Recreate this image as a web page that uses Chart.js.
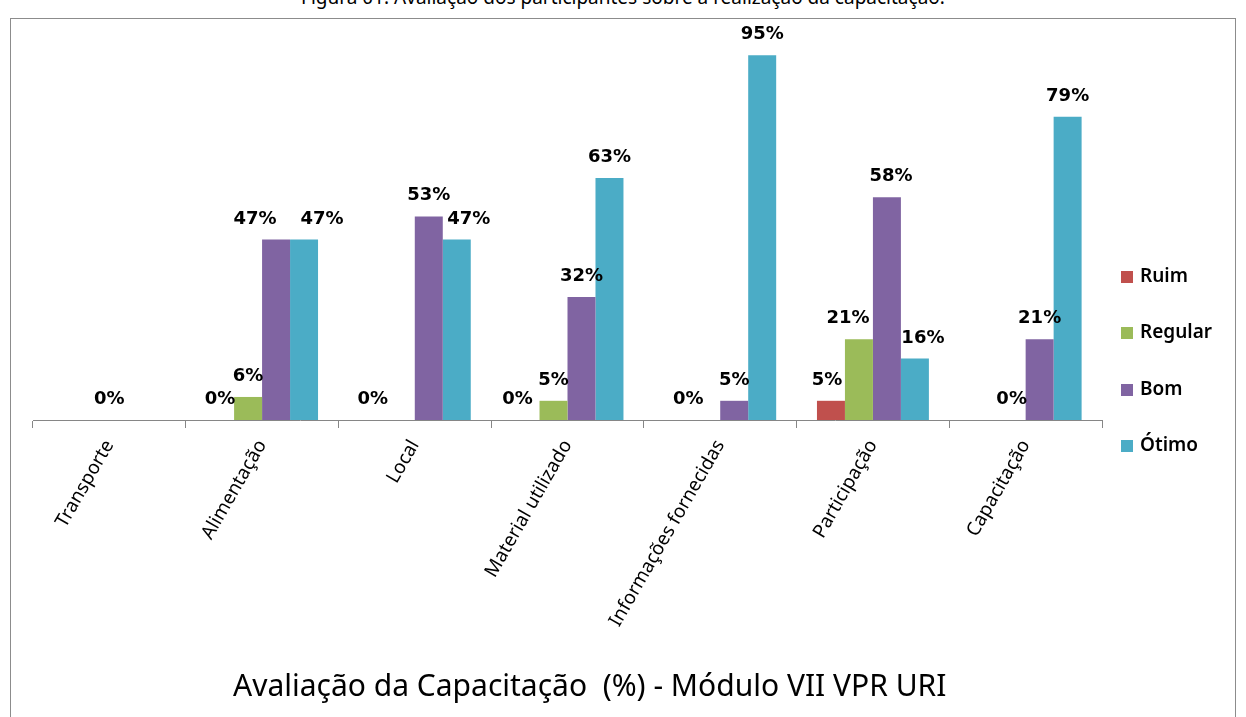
<!DOCTYPE html>
<html>
<head>
<meta charset="utf-8">
<script src="https://cdn.jsdelivr.net/npm/chart.js@4"></script>
<style>
  body { margin: 0; background: #fff; width: 1246px; height: 717px; overflow: hidden; position: relative; font-family: "Noto Sans", sans-serif; }
  #caption { position: absolute; left: 0; top: -16px; width: 1246px; text-align: center; font-size: 19px; color: #000; }
  #box { position: absolute; left: 10px; top: 18px; width: 1224px; height: 710px; border: 1px solid #8c8c8c; }
  #wrap { position: absolute; left: 11px; top: 19px; width: 1224px; height: 698px; }
  #title { position: absolute; left: 233px; top: 666px; font-size: 30px; line-height: 38px; color: #000; white-space: pre; }
  #legend { position: absolute; left: 1121px; top: 262px; font-size: 19px; font-weight: 600; color: #000; }
  #legend div { height: 56.3px; display: flex; align-items: flex-start; }
  #legend span.sw { display: inline-block; width: 12px; height: 12px; margin-right: 7px; margin-top: 9px; }
</style>
</head>
<body>
<div id="caption">Figura 01. Avaliação dos participantes sobre a realização da capacitação.</div>
<div id="box"></div>
<div id="wrap"><canvas id="chart" width="1224" height="698"></canvas></div>
<div id="title">Avaliação da Capacitação  (%) - Módulo VII VPR URI</div>
<div id="legend"></div>
<script>
// categories and series (%)
const categories = ['Transporte', 'Alimentação', 'Local', 'Material utilizado', 'Informações fornecidas', 'Participação', 'Capacitação'];
const ruim    = [0, 0, 0, 0, 0, 5, 0];
const regular = [0, 6, 0, 5, 0, 21, 0];
const bom     = [0, 47, 53, 32, 5, 58, 21];
const otimo   = [0, 47, 47, 63, 95, 16, 79];

// which value labels are shown in the original (null = hidden)
const ruimLabels    = [null, true, true, true, true, true, null];
const regularLabels = [null, true, null, true, null, true, true];
const bomLabels     = [null, true, true, true, true, true, true];
const otimoLabels   = [null, true, true, true, true, true, true];
const centerLabels  = ['0%', null, null, null, null, null, null]; // label at category centre

const seriesNames = ['Ruim', 'Regular', 'Bom', 'Ótimo'];
const colors = ['#C0504D', '#9BBB59', '#8064A2', '#4BACC6'];

// small horizontal nudges of labels that were moved by hand in the original
const labelNudge = {
  '0,3': -8, '0,4': 10, '0,5': -4,
  '1,5': -11,
  '2,1': -21, '2,5': 4,
  '3,1': 18, '3,2': 12, '3,5': 8
};

const valueLabels = {
  id: 'valueLabels',
  afterDatasetsDraw(chart) {
    const ctx = chart.ctx;
    ctx.save();
    ctx.font = 'bold 18px "DejaVu Sans"';
    ctx.fillStyle = '#000';
    ctx.textAlign = 'center';
    ctx.textBaseline = 'alphabetic';
    chart.data.datasets.forEach((ds, i) => {
      const meta = chart.getDatasetMeta(i);
      meta.data.forEach((bar, j) => {
        if (!ds.showLabel[j]) return;
        const dx = labelNudge[i + ',' + j] || 0;
        ctx.fillText(ds.data[j] + '%', bar.x + dx, bar.y - 16);
      });
    });
    const xs = chart.scales.x, ys = chart.scales.y;
    centerLabels.forEach((t, j) => {
      if (t) ctx.fillText(t, xs.getPixelForValue(j), ys.getPixelForValue(0) - 16);
    });
    ctx.restore();
  }
};

const allData = [ruim, regular, bom, otimo];
const allLabels = [ruimLabels, regularLabels, bomLabels, otimoLabels];

const chart = new Chart(document.getElementById('chart'), {
  type: 'bar',
  data: {
    labels: categories,
    datasets: seriesNames.map((n, i) => ({
      label: n,
      data: allData[i],
      showLabel: allLabels[i],
      backgroundColor: colors[i],
      borderWidth: 0,
      categoryPercentage: 0.733,
      barPercentage: 1
    }))
  },
  options: {
    responsive: false,
    animation: false,
    layout: { padding: { left: 22, right: 133, top: 17, bottom: 46 } },
    plugins: {
      legend: { display: false },
      tooltip: { enabled: false },
      title: { display: false }
    },
    scales: {
      x: {
        afterFit: (s) => { s.height = 251; },
        grid: { offset: true, drawOnChartArea: false, drawTicks: true, tickLength: 8, color: '#868686' },
        border: { color: '#868686' },
        ticks: {
          color: '#000',
          font: { family: '"Noto Sans"', size: 19 },
          minRotation: 60, maxRotation: 60, padding: 8
        }
      },
      y: { display: false, min: 0, max: 100 }
    }
  },
  plugins: [valueLabels]
});

// legend
const lg = document.getElementById('legend');
chart.data.datasets.forEach((ds) => {
  const d = document.createElement('div');
  d.innerHTML = '<span class="sw" style="background:' + ds.backgroundColor + '"></span>' + ds.label;
  lg.appendChild(d);
});
</script>
</body>
</html>
